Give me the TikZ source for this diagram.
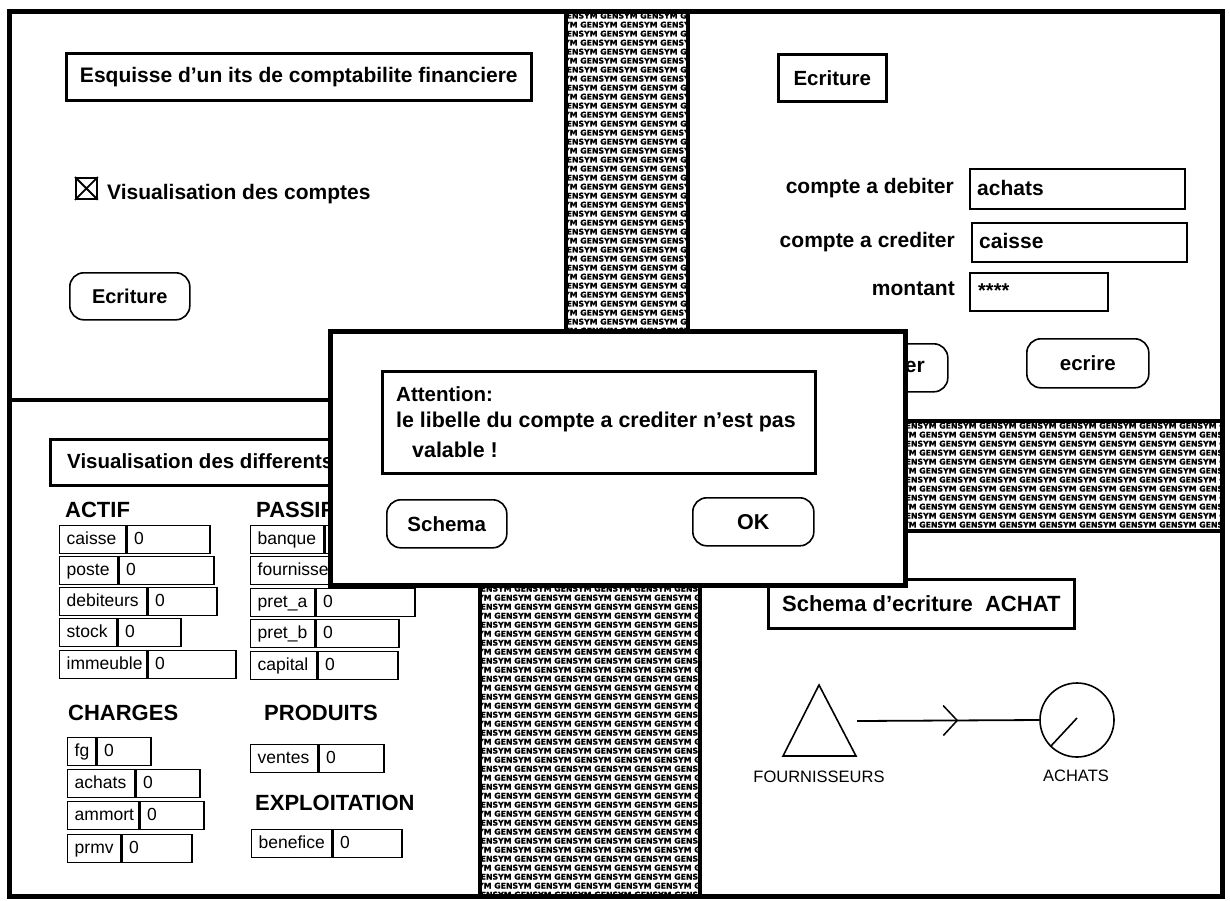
\documentclass[tikz,border=0pt]{standalone}
\usepackage{fontspec}
\setmainfont{Liberation Sans}
\newfontfamily\gsfont{DejaVu Sans}[BoldFeatures={FakeBold=1.5}]
\usetikzlibrary{shapes.geometric,decorations.markings,calc}
\newcommand\myfs[1]{\fontsize{#1}{#1}\selectfont}
\def\gstext{GENSYM GENSYM GENSYM GENSYM GENSYM GENSYM GENSYM GENSYM GENSYM GENSYM}
\newcommand\gensymfill[6]{%
  \begin{scope}
    \clip (#1,#2) rectangle (#3,#4);
    \foreach \i in {0,...,#5} {
      \pgfmathsetmacro\gx{#1-6-20*mod(\i,2)}
      \pgfmathsetmacro\gy{#2+1.5+9*\i}
      \node[gs] (#6\i) at (\gx,\gy) {\gstext};
    }
  \end{scope}}
\newcommand\acct[7]{%
  \pgfmathsetmacro\wa{#4-14}%
  \pgfmathsetmacro\wb{#5-14}%
  \node[cell, text width=\wa pt] (#1l) at (#2,#3) {#6};
  \node[cell, text width=\wb pt] (#1v) at (#1l.north east) {#7};}
\begin{document}
\begin{tikzpicture}[x=1pt,y=-1pt,
  gs/.style={anchor=north west,inner sep=0,font=\gsfont\myfs{7.8}\bfseries},
  win/.style={draw,line width=4,fill=white},
  dlg/.style={draw,line width=5,fill=white},
  tbox/.style={draw,line width=2.6,fill=white,inner sep=0,anchor=north west},
  btn/.style={draw,line width=1.6,rounded corners=14,fill=white,inner sep=0,anchor=north west},
  fld/.style={draw,line width=1.5,fill=white,inner sep=0,anchor=north west},
  cell/.style={draw,line width=1.4,fill=white,anchor=north west,minimum height=28,inner xsep=7,inner ysep=0,align=left,text height=12.5,text depth=3.5,font=\myfs{17.5}},
  lbl/.style={inner sep=0,font=\myfs{21}\bfseries},
  head/.style={inner sep=0,anchor=west,font=\myfs{22}\bfseries},
  plain/.style={inner sep=0,font=\myfs{16.5}}
]
\fill[white] (0,0) rectangle (1230,900);
\useasboundingbox (0,0) rectangle (1230,900);

% desktop pattern
\gensymfill{566}{11}{688}{336}{37}{ga}
\gensymfill{905}{421}{1222}{531}{12}{gb}
\gensymfill{480}{584}{700}{896}{35}{gc}

% windows
\draw[win] (9,11) rectangle (566,400);
\draw[win] (688,11) rectangle (1222,421);
\draw[win] (700,531) rectangle (1222,896);
\draw[win] (9,400) rectangle (480,896);

% top-left window
\node[tbox,minimum width=465,minimum height=47,font=\myfs{21}\bfseries] (t1) at (65,52) {Esquisse d’un its de comptabilite financiere};
\node[draw,line width=1.8,minimum size=21,inner sep=0,anchor=north west] (cb) at (75,177) {};
\draw[line width=1.8] (cb.north west) -- (cb.south east) (cb.north east) -- (cb.south west);
\node[lbl,anchor=west] (vc) at (107,194) {Visualisation des comptes};
\node[btn,minimum width=120,minimum height=47,font=\myfs{20}\bfseries] (b1) at (69,272) {Ecriture};

% top-right window
\node[tbox,minimum width=108,minimum height=47,font=\myfs{20.5}\bfseries] (t2) at (777,53) {Ecriture};
\node[lbl,anchor=east] (l1) at (954,188) {compte a debiter};
\node[fld,minimum width=215,minimum height=40] (f1) at (969,168) {};
\node[lbl,anchor=west] (v1) at (977,188) {achats};
\node[lbl,anchor=east] (l2) at (955,242) {compte a crediter};
\node[fld,minimum width=215,minimum height=39] (f2) at (971,222) {};
\node[lbl,anchor=west] (v2) at (979,241) {caisse};
\node[lbl,anchor=east] (l3) at (955,289) {montant};
\node[fld,minimum width=138,minimum height=38] (f3) at (969,272) {};
\node[inner sep=0,anchor=base west,font=\myfs{20}\bfseries] (v3) at (978,297) {****};
\node[btn,minimum width=148,minimum height=48] (b2) at (799,343) {};
\node[lbl,anchor=east] (b2t) at (925,367) {er};
\node[btn,minimum width=122,minimum height=49,font=\myfs{20.5}\bfseries] (b3) at (1026,338) {ecrire};

% bottom-left window
\node[tbox,minimum width=420,minimum height=46] (t3) at (49,438) {};
\node[inner sep=0,anchor=west,font=\myfs{20.5}\bfseries] (t3t) at (67,461) {Visualisation des differents};
\node[head] (hA) at (65,510) {ACTIF};
\node[head] (hP) at (256,510) {PASSIF};
\acct{ca}{59}{525}{66}{83}{caisse}{0}
\acct{po}{59}{556}{58}{95}{poste}{0}
\acct{de}{59}{587}{87}{69}{debiteurs}{0}
\acct{st}{59}{618}{57}{63}{stock}{0}
\acct{im}{59}{650}{87}{88}{immeuble}{0}
\acct{ba}{250}{525}{73}{80}{banque}{}
\acct{fo}{250}{556}{120}{60}{fournisseurs}{}
\acct{pa}{250}{588}{64}{99}{pret\_a}{0}
\acct{pb}{250}{619}{64}{83}{pret\_b}{0}
\acct{cp}{250}{651}{66}{80}{capital}{0}
\node[head] (hC) at (68,713) {CHARGES};
\node[head] (hR) at (264,713) {PRODUITS};
\acct{fg}{67}{737}{28}{54}{fg}{0}
\acct{ac}{67}{769}{67}{64}{achats}{0}
\acct{am}{67}{801}{71}{64}{ammort}{0}
\acct{pr}{67}{834}{53}{70}{prmv}{0}
\acct{ve}{250}{744}{67}{65}{ventes}{0}
\node[head] (hE) at (255,803) {EXPLOITATION};
\acct{bn}{251}{829}{80}{69}{benefice}{0}

% bottom-right window
\node[tbox,minimum width=306,minimum height=49,font=\myfs{22}\bfseries] (t4) at (767,578) {Schema d’ecriture\ \ ACHAT};
\coordinate (ta) at (819,685);
\coordinate (tl) at (783,756);
\coordinate (tb) at (856,756);
\draw[line width=1.6] (ta) -- (tl) -- (tb) -- cycle;
\coordinate (ls) at (857,721);
\node[draw,circle,line width=1.6,minimum size=74,inner sep=0] (circ) at (1077,720) {};
\draw[line width=1.6] (circ.225) -- ($(circ.center)+(0,-2)$);
\draw[line width=1.8,postaction={decorate},
  decoration={markings,mark=at position 0.55 with {\draw[line width=1.5] (-14,15) -- (0,0) -- (-14,-15);}}]
  (ls) -- (circ.west);
\node[plain] (nf) at (819,777) {FOURNISSEURS};
\node[plain] (na) at (1076,776) {ACHATS};

% dialog
\draw[dlg] (330,331) rectangle (905,585);
\node[tbox,minimum width=433,minimum height=102] (msg) at (381,370) {};
\node[inner sep=0,anchor=west,font=\myfs{20.5}\bfseries] (m1) at (396,394) {Attention:};
\node[inner sep=0,anchor=west,font=\myfs{21.4}\bfseries] (m2) at (396,422) {le libelle du compte a crediter n’est pas};
\node[inner sep=0,anchor=west,font=\myfs{21.4}\bfseries] (m3) at (412,450) {valable !};
\node[btn,minimum width=120,minimum height=48,font=\myfs{20.5}\bfseries] (bs) at (386,499) {Schema};
\node[btn,minimum width=121,minimum height=48,font=\myfs{21.5}\bfseries] (bok) at (692,497) {OK};

% outer frame
\draw[line width=5] (9,11) rectangle (1222,896);
\end{tikzpicture}
\end{document}
